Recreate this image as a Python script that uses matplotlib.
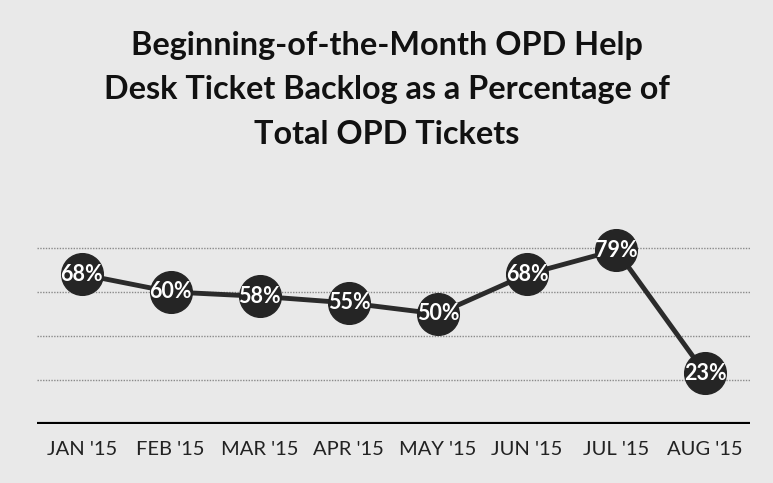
#!/usr/bin/env python

import matplotlib
matplotlib.use('Agg')
import matplotlib.pyplot as plt

months = ["JAN '15", "FEB '15", "MAR '15", "APR '15",
          "MAY '15", "JUN '15", "JUL '15", "AUG '15"]
backlog_pct = [68, 60, 58, 55, 50, 68, 79, 23]
grid_levels = [20, 40, 60, 80]

title_lines = ["Beginning-of-the-Month OPD Help",
               "Desk Ticket Backlog as a Percentage of",
               "Total OPD Tickets"]


def main():
    plt.rcParams['font.family'] = ['Lato', 'DejaVu Sans']
    fig = plt.figure(figsize=(7.73, 4.83), dpi=100)
    fig.patch.set_facecolor('#e9e9e9')

    ax = fig.add_axes([0.048, 0.122, 0.922, 0.456])
    ax.set_facecolor('#e9e9e9')

    x = list(range(len(months)))
    for g in grid_levels:
        ax.axhline(g, color='#8a8a8a', lw=1, ls=(0, (1, 1)), zorder=1)
    ax.axhline(0, color='black', lw=3, zorder=2)

    ax.plot(x, backlog_pct, color='#2b2b2b', lw=3.5, marker='o',
            markersize=30, markerfacecolor='#252525',
            markeredgecolor='#252525', zorder=3)
    for xi, v in zip(x, backlog_pct):
        ax.text(xi, v, "%d%%" % v, color='white', fontsize=15.5,
                fontweight='bold', ha='center', va='center', zorder=4)

    ax.set_xlim(-0.5, len(months) - 0.5)
    ax.set_ylim(0, 100)
    ax.set_yticks([])
    ax.set_xticks(x)
    ax.set_xticklabels(months, fontsize=14.5, color='#222222')
    ax.tick_params(axis='x', length=0, pad=12)
    for s in ax.spines.values():
        s.set_visible(False)

    for i, line in enumerate(title_lines):
        fig.text(0.5, 1 - (45 + 45 * i) / 483.0, line, fontsize=23.3,
                 fontweight='bold', ha='center', va='center', color='#111111')

    fig.savefig('out.png', dpi=100, facecolor=fig.get_facecolor())
    plt.close()


if __name__ == '__main__':
    main()
